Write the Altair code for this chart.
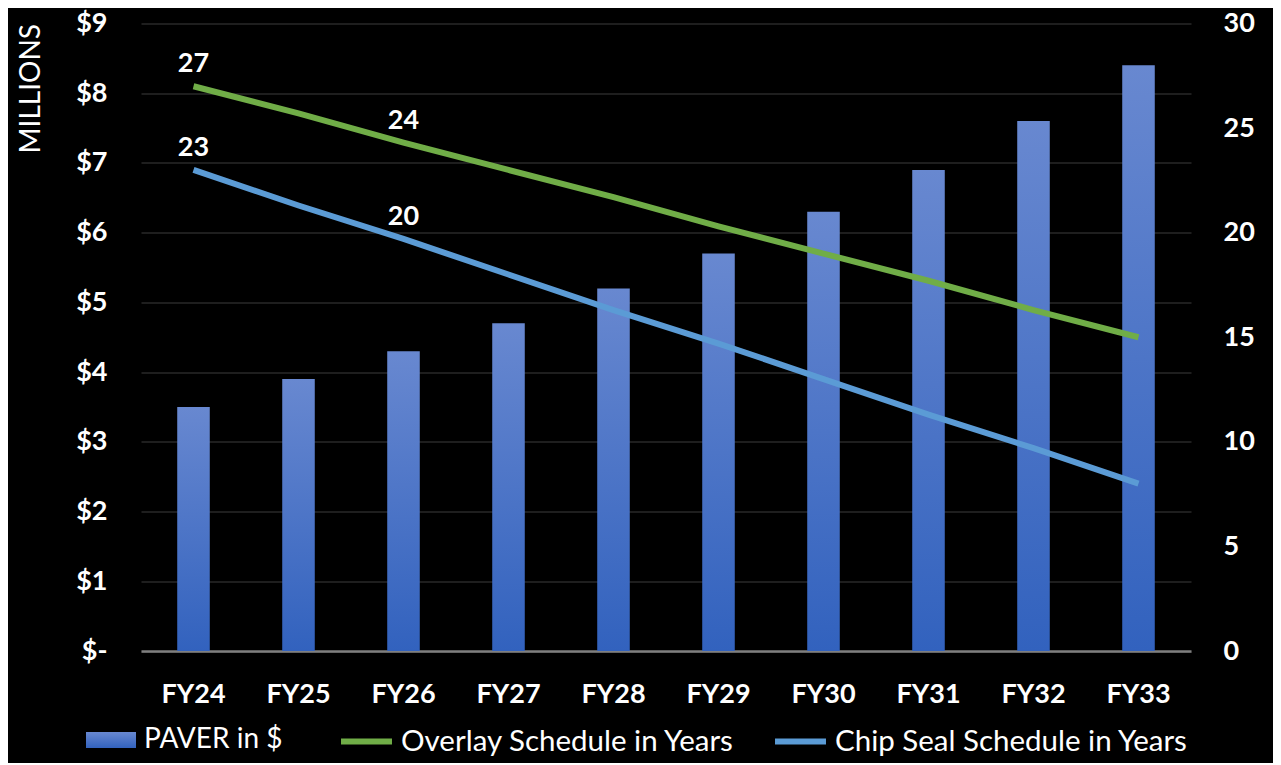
import altair as alt
import pandas as pd

years = ["FY24", "FY25", "FY26", "FY27", "FY28", "FY29", "FY30", "FY31", "FY32", "FY33"]
paver_millions = [3.5, 3.9, 4.3, 4.7, 5.2, 5.7, 6.3, 6.9, 7.6, 8.4]
overlay_years = [27, 25.7, 24.3, 23, 21.7, 20.3, 19, 17.7, 16.3, 15]
chipseal_years = [23, 21.3, 19.7, 18, 16.3, 14.7, 13, 11.3, 9.7, 8]
labelled_years = ["FY24", "FY26"]

bar_name = "PAVER in $"
overlay_name = "Overlay Schedule in Years"
chip_name = "Chip Seal Schedule in Years"

FONT = "Lato"
PLOT_LEFT = 141
PLOT_TOP = 23.5

bar_df = pd.DataFrame({"year": years, "paver": paver_millions, "series": bar_name})
line_df = pd.concat([
    pd.DataFrame({"year": years, "value": overlay_years, "series": overlay_name}),
    pd.DataFrame({"year": years, "value": chipseal_years, "series": chip_name}),
], ignore_index=True)
label_df = line_df[line_df["year"].isin(labelled_years)].copy()

grad = alt.Gradient(
    gradient="linear",
    stops=[alt.GradientStop(color="#6888d0", offset=0),
           alt.GradientStop(color="#3262be", offset=1)],
    x1=0, x2=0, y1=0, y2=1,
)

x_enc = alt.X(
    "year:N", sort=years,
    scale=alt.Scale(paddingInner=0.69, paddingOuter=0.345),
    axis=alt.Axis(title=None, labelAngle=0, labelFont=FONT, labelFontSize=27,
                  labelFontWeight="bold", labelColor="white", labelPadding=30,
                  ticks=False, domainColor="#7f7f7f", domainWidth=2.5, grid=False),
)

bars = alt.Chart(bar_df).mark_bar(color=grad).encode(
    x=x_enc,
    y=alt.Y(
        "paver:Q",
        scale=alt.Scale(domain=[0, 9], nice=False),
        axis=alt.Axis(
            values=list(range(10)),
            labelExpr="datum.value == 0 ? '$-\u00a0\u00a0\u00a0' : '$' + datum.value",
            title="MILLIONS", titleFont=FONT, titleFontSize=28, titleFontWeight="normal",
            titleColor="white", titlePadding=30, titleAnchor="end",
            labelFont=FONT, labelFontSize=27, labelFontWeight="bold", labelColor="white",
            labelPadding=34, ticks=False, domain=False,
            grid=True, gridColor="#282828", gridWidth=1.5,
        ),
    ),
    opacity=alt.Opacity(
        "series:N", scale=alt.Scale(domain=[bar_name], range=[1]),
        legend=alt.Legend(
            title=None, orient="none", legendX=86 - PLOT_LEFT, legendY=715 - PLOT_TOP,
            symbolType="M-1,-0.32L1,-0.32L1,0.32L-1,0.32Z", symbolSize=2500,
            symbolFillColor="#4a73c8", symbolStrokeWidth=0, symbolOpacity=1,
            labelFont=FONT, labelFontSize=28, labelColor="white", labelOffset=8,
            labelLimit=600,
        ),
    ),
)

y_right = alt.Scale(domain=[0, 30], nice=False)
right_axis = alt.Axis(orient="right", values=[0, 5, 10, 15, 20, 25, 30], title=None,
                      labelFont=FONT, labelFontSize=27, labelFontWeight="bold",
                      labelColor="white", labelPadding=32, ticks=False, domain=False,
                      grid=False)

lines = alt.Chart(line_df).mark_line(strokeWidth=6).encode(
    x=alt.X("year:N", sort=years),
    y=alt.Y("value:Q", scale=y_right, axis=right_axis),
    stroke=alt.Stroke(
        "series:N",
        scale=alt.Scale(domain=[overlay_name, chip_name], range=["#70ad47", "#5b9bd5"]),
        legend=alt.Legend(
            title=None, orient="none", direction="horizontal",
            legendX=338 - PLOT_LEFT, legendY=713 - PLOT_TOP,
            symbolType="stroke", symbolSize=2600, symbolStrokeWidth=6,
            labelFont=FONT, labelFontSize=29.5, labelColor="white", labelOffset=6,
            labelLimit=600, columnPadding=28,
        ),
    ),
)

labels = alt.Chart(label_df).mark_text(
    font=FONT, fontSize=27, fontWeight="bold", color="white", dy=-22, baseline="middle"
).encode(
    x=alt.X("year:N", sort=years),
    y=alt.Y("value:Q", scale=y_right, axis=right_axis),
    text=alt.Text("value:Q", format=".0f"),
)

chart = alt.layer(bars, alt.layer(lines, labels)).resolve_scale(
    y="independent"
).properties(
    width=1050, height=627.5, background="black",
    autosize=alt.AutoSizeParams(type="none"),
    padding={"left": PLOT_LEFT - 8, "top": PLOT_TOP - 8, "right": 82, "bottom": 112},
).configure_view(stroke=None)

chart.save("out.html", embed_options={"renderer": "svg", "actions": False})
